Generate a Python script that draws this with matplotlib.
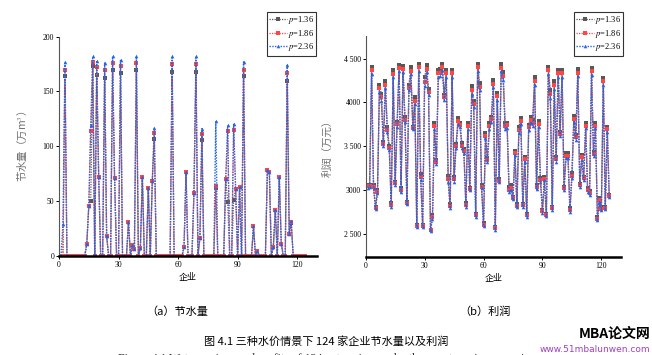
import numpy as np
import matplotlib.pyplot as plt

plt.rcParams['font.family'] = ['Liberation Serif', 'Noto Sans CJK SC', 'DejaVu Sans']
plt.rcParams['mathtext.fontset'] = 'stix'

# ==========================================
# 1. DATA
# ==========================================
firms = np.arange(1, 125)
price_labels = ['$p$=1.36', '$p$=1.86', '$p$=2.36']

# water saved (10^4 m3)
water_136 = [0, 0, 164, 0, 0, 0, 0, 0, 0, 0,
             0, 0, 0, 11, 45, 50, 173, 0, 165, 72,
             0, 0, 162, 18, 0, 0, 170, 71, 0, 0,
             167, 0, 0, 0, 31, 0, 10, 6, 170, 0,
             7, 72, 0, 0, 62, 0, 68, 107, 0, 0,
             0, 0, 0, 0, 0, 0, 168, 0, 0, 0,
             0, 0, 8, 76, 0, 0, 0, 57, 168, 0,
             16, 106, 0, 0, 0, 0, 0, 0, 62, 0,
             0, 0, 0, 70, 49, 0, 0, 51, 61, 0,
             63, 0, 164, 0, 0, 0, 0, 27, 0, 4,
             0, 0, 0, 0, 78, 76, 0, 8, 42, 0,
             72, 11, 0, 0, 160, 20, 30, 0, 0, 0,
             0, 0, 0, 0]
water_186 = [0, 0, 170, 0, 0, 0, 0, 0, 0, 0,
             0, 0, 0, 11, 45, 114, 177, 0, 172, 72,
             0, 0, 170, 18, 0, 0, 176, 71, 0, 0,
             173, 0, 0, 0, 31, 0, 10, 6, 176, 0,
             7, 72, 0, 0, 62, 0, 68, 112, 0, 0,
             0, 0, 0, 0, 0, 0, 175, 0, 0, 0,
             0, 0, 8, 76, 0, 0, 0, 57, 175, 0,
             16, 111, 0, 0, 0, 0, 0, 0, 64, 0,
             0, 0, 0, 70, 114, 0, 0, 115, 61, 0,
             63, 0, 170, 0, 0, 0, 0, 27, 0, 4,
             0, 0, 0, 0, 78, 76, 0, 8, 42, 0,
             72, 11, 0, 0, 167, 20, 31, 0, 0, 0,
             0, 0, 0, 0]
water_236 = [0, 29, 177, 0, 0, 0, 0, 0, 0, 0,
             0, 0, 0, 11, 45, 119, 182, 0, 178, 72,
             0, 0, 176, 18, 0, 0, 182, 71, 0, 0,
             179, 0, 0, 0, 31, 0, 10, 6, 182, 0,
             7, 72, 0, 0, 62, 0, 68, 117, 0, 0,
             0, 0, 0, 0, 0, 0, 182, 0, 0, 0,
             0, 0, 8, 76, 0, 0, 0, 57, 182, 0,
             16, 116, 0, 0, 0, 0, 0, 0, 123, 0,
             0, 0, 0, 70, 119, 0, 0, 120, 61, 0,
             63, 0, 177, 0, 0, 0, 0, 27, 0, 4,
             0, 0, 0, 0, 78, 76, 0, 8, 42, 0,
             72, 11, 0, 0, 174, 20, 32, 0, 0, 0,
             0, 0, 0, 0]

# profit (10^4 yuan)
profit_136 = [3050, 3060, 4404, 3055, 2805, 2997, 4198, 4095, 3544, 4248,
              3716, 3506, 2844, 4374, 3093, 3781, 4431, 3016, 4412, 3831,
              2863, 4202, 4404, 3724, 4060, 2596, 4443, 3181, 2596, 4286,
              4424, 4152, 2545, 2710, 3762, 3341, 4374, 4381, 4439, 4087,
              4374, 3158, 2837, 4374, 3150, 3525, 3819, 3770, 3533, 3467,
              2844, 3762, 3024, 4183, 4018, 2729, 4443, 4221, 3055, 2622,
              3647, 3360, 3762, 3838, 4251, 2577, 4106, 3120, 4439, 4343,
              3762, 3762, 3028, 3055, 2921, 3448, 2837, 3724, 3819, 2837,
              3380, 2729, 3743, 3838, 3800, 4290, 3055, 3793, 3131, 2775,
              3142, 2729, 4404, 4137, 2806, 4240, 3380, 4374, 3667, 4374,
              3036, 3425, 3425, 2787, 3188, 3846, 3628, 4385, 3066, 3399,
              3150, 3762, 3016, 2989, 4393, 3437, 3762, 2684, 2902, 2798,
              4278, 2806, 3724, 2940]
profit_186 = [3040, 3045, 4366, 3035, 2795, 2980, 4160, 4060, 3525, 4205,
              3690, 3480, 2825, 4330, 3075, 3750, 4393, 2995, 4378, 3800,
              2848, 4170, 4362, 3708, 4020, 2586, 4400, 3145, 2586, 4235,
              4385, 4120, 2535, 2690, 3728, 3318, 4332, 4340, 4402, 4058,
              4332, 3125, 2812, 4332, 3122, 3500, 3786, 3747, 3504, 3442,
              2825, 3728, 3010, 4140, 3985, 2710, 4400, 4182, 3035, 2603,
              3618, 3340, 3728, 3805, 4210, 2560, 4068, 3106, 4397, 4300,
              3728, 3737, 3003, 3025, 2905, 3423, 2818, 3685, 3786, 2822,
              3350, 2710, 3714, 3804, 3765, 4246, 3030, 3758, 3112, 2756,
              3127, 2714, 4366, 4093, 2787, 4196, 3350, 4332, 3642, 4332,
              3016, 3392, 3392, 2768, 3160, 3813, 3600, 4341, 3051, 3370,
              3131, 3733, 2997, 2965, 4355, 3412, 3733, 2668, 2882, 2783,
              4240, 2792, 3695, 2926]
profit_236 = [3025, 3035, 4328, 3016, 2785, 2960, 4125, 4022, 3506, 4163,
              3659, 3456, 2806, 4290, 3055, 3724, 4355, 2970, 4343, 3773,
              2833, 4137, 4320, 3693, 3980, 2577, 4355, 3112, 2577, 4183,
              4347, 4087, 2525, 2672, 3693, 3295, 4290, 4297, 4366, 4030,
              4290, 3093, 2787, 4290, 3093, 3475, 3754, 3724, 3475, 3418,
              2806, 3693, 2997, 4095, 3953, 2691, 4355, 4144, 3016, 2584,
              3590, 3322, 3693, 3773, 4171, 2546, 4030, 3093, 4355, 4259,
              3693, 3712, 2978, 2997, 2890, 3399, 2798, 3647, 3754, 2806,
              3322, 2691, 3686, 3770, 3731, 4202, 3005, 3724, 3093, 2737,
              3112, 2699, 4328, 4049, 2768, 4152, 3322, 4290, 3617, 4290,
              2997, 3360, 3360, 2749, 3131, 3781, 3571, 4297, 3036, 3341,
              3112, 3705, 2978, 2940, 4316, 3387, 3705, 2653, 2863, 2768,
              4202, 2779, 3667, 2913]

profit_ticks = [2500, 3000, 3500, 4000, 4500]
profit_tick_labels = ['2 500', '3000', '3 500', '4000', '4 500']

# ==========================================
# 2. STYLE
# ==========================================
colors = ['#585858', '#ff4545', '#2266e6']
markers = ['s', 's', '^']
msizes = [2.2, 2.2, 2.6]
lwidths = [0.9, 0.9, 1.0]

W, H = 652, 355
fig = plt.figure(figsize=(W / 100, H / 100), dpi=100)

def px_box(x0, y0, x1, y1):
    return [x0 / W, 1 - y1 / H, (x1 - x0) / W, (y1 - y0) / H]

def style_axes(ax):
    for s in ['top', 'right']:
        ax.spines[s].set_visible(False)
    ax.spines['bottom'].set_linewidth(1.8)
    ax.spines['bottom'].set_color('black')
    ax.spines['left'].set_linewidth(0.8)
    ax.spines['left'].set_color('#555555')
    ax.tick_params(axis='both', direction='out', length=2, width=0.7,
                   labelsize=5.5, pad=1.5)
    ax.set_xlim(0, 130)
    ax.set_xticks([0, 30, 60, 90, 120])

def draw_series(ax, series_list, legend_anchor):
    handles = []
    for vals, c, m, ms, lw, lab in zip(series_list, colors, markers, msizes, lwidths, price_labels):
        h, = ax.plot(firms, vals, linestyle=(0, (1, 1)), linewidth=lw, color=c,
                     marker=m, markersize=ms, markeredgewidth=0, label=lab)
        handles.append(h)
    leg = ax.legend(handles=handles, loc='upper right',
                    bbox_to_anchor=legend_anchor, bbox_transform=fig.transFigure,
                    fontsize=6, frameon=True, fancybox=False, borderpad=0.25,
                    labelspacing=0.2, handlelength=2.2, handletextpad=0.1,
                    borderaxespad=0)
    leg.get_frame().set_edgecolor('black')
    leg.get_frame().set_linewidth(0.8)

# ==========================================
# 3. LEFT PANEL: WATER SAVING
# ==========================================
ax1 = fig.add_axes(px_box(59, 36.7, 317, 255.7))
draw_series(ax1, [water_136, water_186, water_236], (316 / W, 1 - 12 / H))
style_axes(ax1)
ax1.set_ylim(0, 200)
ax1.set_yticks([0, 50, 100, 150, 200])
ax1.set_ylabel('节水量（万m$^3$）', fontsize=7.5, color='#707070',
               family=['Noto Sans CJK SC', 'DejaVu Sans'], labelpad=10)
ax1.set_xlabel('企业', fontsize=6.5, family=['Noto Sans CJK SC'], labelpad=3)

# ==========================================
# 4. RIGHT PANEL: PROFIT
# ==========================================
ax2 = fig.add_axes(px_box(365.7, 36, 621, 256.7))
draw_series(ax2, [profit_136, profit_186, profit_236], (623 / W, 1 - 12 / H))
style_axes(ax2)
ax2.set_ylim(2235, 4760)
ax2.set_yticks(profit_ticks)
ax2.set_yticklabels(profit_tick_labels)
ax2.set_ylabel('利润（万元）', fontsize=7.5, color='#707070',
               family=['Noto Sans CJK SC'], labelpad=8)
ax2.set_xlabel('企业', fontsize=6.5, family=['Noto Sans CJK SC'], labelpad=3)

# ==========================================
# 5. CAPTIONS
# ==========================================
fig.text(177 / W, 1 - 312 / H, '（a）节水量', fontsize=8, ha='center', va='center',
         family=['Noto Sans CJK SC'])
fig.text(485 / W, 1 - 312 / H, '（b）利润', fontsize=8, ha='center', va='center',
         family=['Noto Sans CJK SC'])
fig.text(326 / W, 1 - 341 / H, '图 4.1 三种水价情景下 124 家企业节水量以及利润',
         fontsize=8, ha='center', va='center', family=['Noto Sans CJK SC'])
# English caption line, only its top edge shows in the reference
fig.text(326 / W, -4 / H, 'Figure 4.1 Water savings and profits of 124 enterprises under three water price scenarios',
         fontsize=8.5, ha='center', va='center', color='#303030')
fig.text(650 / W, 1 - 334 / H, 'MBA论文网', fontsize=10, ha='right', va='center',
         fontweight='bold', style='italic', family=['Noto Sans CJK SC'])
fig.text(650 / W, 1 - 349 / H, 'www.51mbalunwen.com', fontsize=6.5, ha='right',
         va='center', color='#a040c0', family=['DejaVu Sans'])

fig.savefig('out.png', dpi=100)
